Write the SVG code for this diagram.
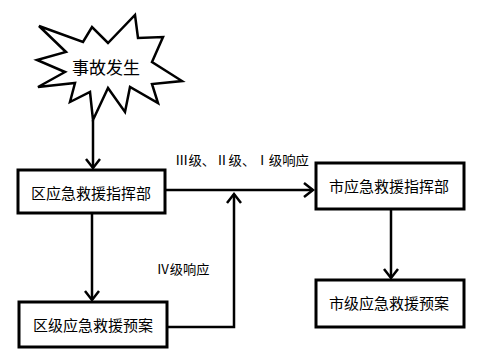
<svg xmlns="http://www.w3.org/2000/svg" width="498" height="360" viewBox="0 0 498 360">
<style>
.box{fill:#fff;stroke:#000;stroke-width:3}
.t{font-family:"Noto Sans CJK SC","Noto Sans",sans-serif;font-size:15px;fill:#000;text-anchor:middle;dominant-baseline:central}
.lbl{font-family:"Noto Sans CJK SC","Noto Sans",sans-serif;font-size:13px;fill:#000;text-anchor:middle}
.ln{fill:none;stroke:#000;stroke-width:2.5}
.hd{fill:none;stroke:#000;stroke-width:2.5;stroke-linejoin:miter}
</style>
<rect width="498" height="360" fill="#fff"/>
<g id="connectors">
  <line class="ln" x1="93" y1="120" x2="93" y2="168"/>
  <polyline class="hd" points="86,159 93,168 100,159"/>
  <line class="ln" x1="92" y1="213" x2="92" y2="300"/>
  <polyline class="hd" points="85,291 92,300 99,291"/>
  <line class="ln" x1="165" y1="190" x2="313" y2="190"/>
  <polyline class="hd" points="304,183 313,190 304,197"/>
  <line class="ln" x1="391" y1="209" x2="391" y2="278"/>
  <polyline class="hd" points="384,269 391,278 398,269"/>
  <polyline class="ln" points="167,327 234,327 234,194"/>
  <polyline class="hd" points="227,203 234,194 241,203"/>
  <text class="lbl" x="242" y="165" textLength="134" lengthAdjust="spacingAndGlyphs">Ⅲ级、Ⅱ级、Ⅰ级响应</text>
  <text class="lbl" x="183" y="274" textLength="53" lengthAdjust="spacingAndGlyphs">Ⅳ级响应</text>
</g>
<g id="event">
  <polygon fill="#fff" stroke="#000" stroke-width="2.5" stroke-linejoin="miter" points="39,26 83,42 92,27 108,43 135,15 138,38 163,37 152,62 182,81 152,84 158,103 130,87 125,112 108,88 93,120 90,92 70,102 75,83 38,87 65,72 37,60 66,52"/>
  <text class="t" x="106" y="66" style="font-size:17px">事故发生</text>
</g>
<g id="district-command">
  <rect class="box" x="18" y="170" width="147" height="43"/>
  <text class="t" x="91" y="192">区应急救援指挥部</text>
</g>
<g id="city-command">
  <rect class="box" x="316" y="163" width="148" height="46"/>
  <text class="t" x="389" y="185">市应急救援指挥部</text>
</g>
<g id="district-plan">
  <rect class="box" x="19" y="302" width="148" height="45"/>
  <text class="t" x="93" y="324">区级应急救援预案</text>
</g>
<g id="city-plan">
  <rect class="box" x="316" y="280" width="148" height="47"/>
  <text class="t" x="389" y="302">市级应急救援预案</text>
</g>
</svg>
